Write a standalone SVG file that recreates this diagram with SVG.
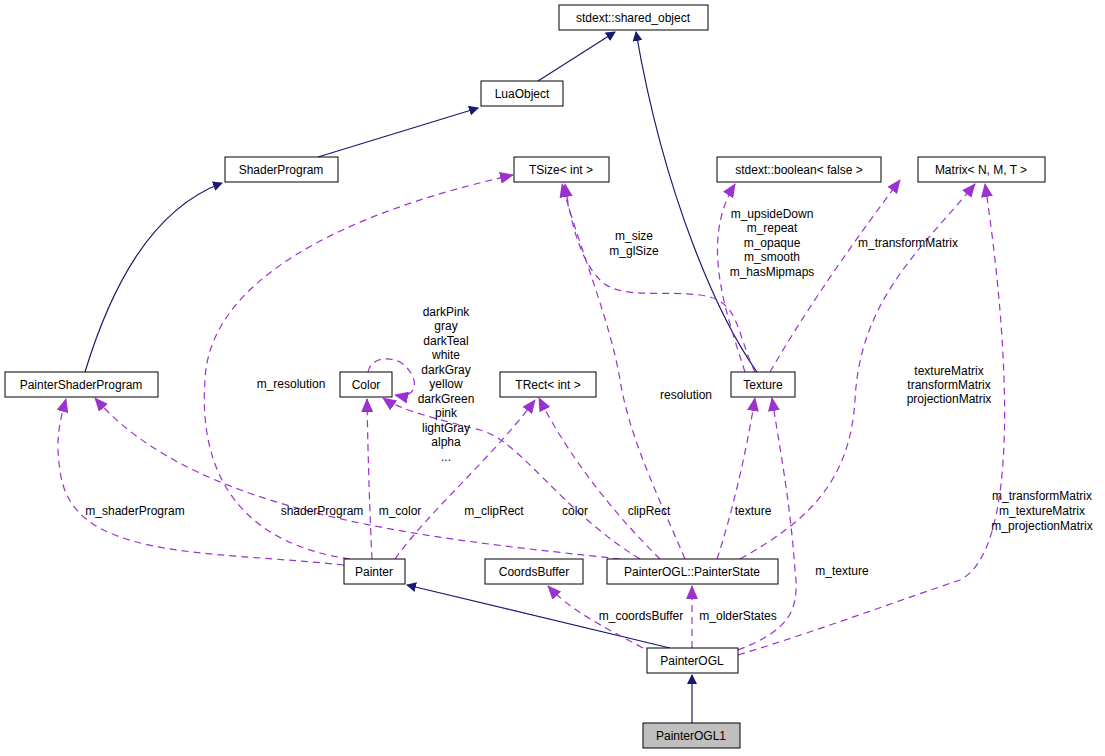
<svg xmlns="http://www.w3.org/2000/svg" width="1105" height="756" viewBox="0 0 1105 756">
<style>
.n rect{fill:#fff;stroke:#000;stroke-width:1}
text{font-family:"Liberation Sans",Arial,sans-serif;font-size:12px;fill:#000}
.n text{text-anchor:middle}
.i{fill:none;stroke:#191970;stroke-width:1.2}
.u{fill:none;stroke:#9a32cd;stroke-width:1.2;stroke-dasharray:7,5}
.l text{text-anchor:middle}
</style>
<defs>
<marker id="ai" markerWidth="10" markerHeight="10" refX="9" refY="5" orient="auto" markerUnits="userSpaceOnUse"><path d="M0,0 L10,5 L0,10 Z" fill="#191970"/></marker>
<marker id="au" markerWidth="14" markerHeight="12" refX="13" refY="6" orient="auto" markerUnits="userSpaceOnUse"><path d="M0,0 L14,6 L0,12 Z" fill="#9a32cd"/></marker>
</defs>
<rect width="1105" height="756" fill="#fff"/>
<g id="connectors">
<path class="i" marker-end="url(#ai)" d="M538,81 L615,32"/>
<path class="i" marker-end="url(#ai)" d="M318,157 L478,108"/>
<path class="i" marker-end="url(#ai)" d="M757,372 C720,320 665,200 636,32"/>
<path class="i" marker-end="url(#ai)" d="M85,372 C110,290 150,210 222,183"/>
<path class="i" marker-end="url(#ai)" d="M670,648 L407,585"/>
<path class="i" marker-end="url(#ai)" d="M692,723 L692,675"/>
<path class="u" marker-end="url(#au)" d="M643,648 C600,625 570,610 548,586"/>
<path class="u" marker-end="url(#au)" d="M692,648 L692,586"/>
<path class="u" marker-end="url(#au)" d="M738,650 C790,630 800,610 795,570 C790,500 780,450 772,398"/>
<path class="u" marker-end="url(#au)" d="M738,655 C820,630 900,600 960,580 C1020,550 1010,350 985,184"/>
<path class="u" marker-end="url(#au)" d="M717,559 C730,520 745,460 755,398"/>
<path class="u" marker-end="url(#au)" d="M740,559 C810,520 850,480 855,400 C860,300 920,250 975,184"/>
<path class="u" marker-end="url(#au)" d="M685,559 C660,500 630,440 620,380 C610,320 580,250 562,184"/>
<path class="u" marker-end="url(#au)" d="M660,559 C620,520 570,460 539,398"/>
<path class="u" marker-end="url(#au)" d="M640,559 C560,510 520,440 480,430 C440,420 400,410 383,398"/>
<path class="u" marker-end="url(#au)" d="M620,559 C450,540 200,520 95,398"/>
<path class="u" marker-end="url(#au)" d="M755,372 C735,330 740,300 700,295 C660,290 620,300 600,280 C580,260 570,220 565,184"/>
<path class="u" marker-end="url(#au)" d="M770,372 C800,320 840,260 900,180"/>
<path class="u" marker-end="url(#au)" d="M745,372 C725,310 700,240 735,184"/>
<path class="u" marker-end="url(#au)" d="M344,565 C200,550 70,560 60,470 C55,440 60,420 66,399"/>
<path class="u" marker-end="url(#au)" d="M372,559 C370,520 368,460 367,399"/>
<path class="u" marker-end="url(#au)" d="M395,559 C430,510 490,460 535,400"/>
<path class="u" marker-end="url(#au)" d="M350,559 C220,540 200,450 205,380 C210,260 400,200 513,175"/>
<path class="u" marker-end="url(#au)" d="M368,372 C370,360 385,355 400,362 C420,375 420,400 395,395"/>
</g>
<g class="l">
<text x="686" y="399">resolution</text>
<text x="634" y="240">m_size</text><text x="634" y="255">m_glSize</text>
<text x="772" y="218">m_upsideDown</text><text x="772" y="232">m_repeat</text><text x="772" y="247">m_opaque</text><text x="772" y="261">m_smooth</text><text x="772" y="276">m_hasMipmaps</text>
<text x="908" y="247">m_transformMatrix</text>
<text x="949" y="375">textureMatrix</text><text x="949" y="389">transformMatrix</text><text x="949" y="403">projectionMatrix</text>
<text x="1042" y="500">m_transformMatrix</text><text x="1042" y="515">m_textureMatrix</text><text x="1042" y="530">m_projectionMatrix</text>
<text x="446" y="316">darkPink</text><text x="446" y="330">gray</text><text x="446" y="345">darkTeal</text><text x="446" y="359">white</text><text x="446" y="374">darkGray</text><text x="446" y="388">yellow</text><text x="446" y="403">darkGreen</text><text x="446" y="417">pink</text><text x="446" y="432">lightGray</text><text x="446" y="446">alpha</text><text x="446" y="461">...</text>
<text x="291" y="388">m_resolution</text>
<text x="135" y="515">m_shaderProgram</text>
<text x="322" y="515">shaderProgram</text>
<text x="400" y="515">m_color</text>
<text x="494" y="515">m_clipRect</text>
<text x="575" y="515">color</text>
<text x="649" y="515">clipRect</text>
<text x="753" y="515">texture</text>
<text x="842" y="575">m_texture</text>
<text x="641" y="620">m_coordsBuffer</text>
<text x="738" y="620">m_olderStates</text>
</g>
<g class="n" id="shared_object"><rect x="559" y="5" width="149" height="25"/><text x="633" y="22">stdext::shared_object</text></g>
<g class="n" id="LuaObject"><rect x="481" y="81" width="82" height="25"/><text x="522" y="98">LuaObject</text></g>
<g class="n" id="ShaderProgram"><rect x="225" y="157" width="113" height="25"/><text x="281" y="174">ShaderProgram</text></g>
<g class="n" id="TSize"><rect x="514" y="157" width="95" height="25"/><text x="561" y="174">TSize&lt; int &gt;</text></g>
<g class="n" id="boolean"><rect x="717" y="157" width="164" height="25"/><text x="799" y="174">stdext::boolean&lt; false &gt;</text></g>
<g class="n" id="Matrix"><rect x="918" y="157" width="127" height="25"/><text x="981" y="174">Matrix&lt; N, M, T &gt;</text></g>
<g class="n" id="PainterShaderProgram"><rect x="5" y="372" width="153" height="25"/><text x="81" y="389">PainterShaderProgram</text></g>
<g class="n" id="Color"><rect x="340" y="372" width="52" height="25"/><text x="366" y="389">Color</text></g>
<g class="n" id="TRect"><rect x="500" y="372" width="96" height="25"/><text x="548" y="389">TRect&lt; int &gt;</text></g>
<g class="n" id="Texture"><rect x="731" y="372" width="64" height="25"/><text x="763" y="389">Texture</text></g>
<g class="n" id="Painter"><rect x="344" y="559" width="61" height="25"/><text x="374" y="576">Painter</text></g>
<g class="n" id="CoordsBuffer"><rect x="485" y="559" width="98" height="25"/><text x="534" y="576">CoordsBuffer</text></g>
<g class="n" id="PainterState"><rect x="607" y="559" width="171" height="25"/><text x="692" y="576">PainterOGL::PainterState</text></g>
<g class="n" id="PainterOGL"><rect x="647" y="648" width="91" height="25"/><text x="692" y="665">PainterOGL</text></g>
<g class="n" id="PainterOGL1"><rect x="643" y="723" width="97" height="25" style="fill:#bfbfbf"/><text x="691" y="740">PainterOGL1</text></g>
</svg>
